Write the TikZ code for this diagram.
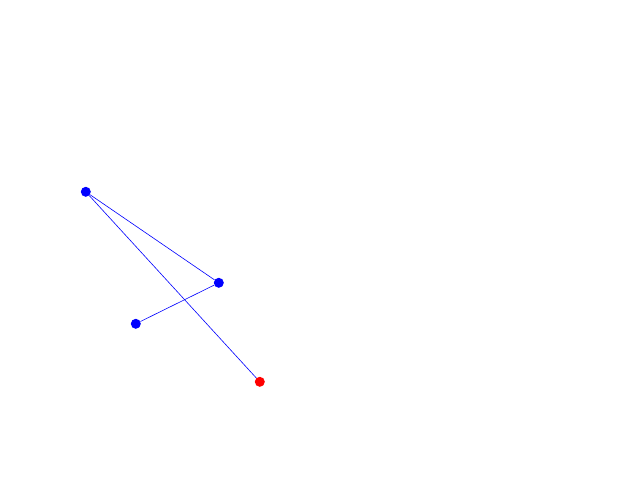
\documentclass[tikz,border=0pt]{standalone}
\begin{document}
\begin{tikzpicture}[x=1pt,y=-1pt,
  dot/.style={circle,inner sep=0pt,minimum size=10pt,fill=#1},
  link/.style={draw=blue,line width=0.6pt}]
\useasboundingbox (0,0) rectangle (640,480);
\node[dot=blue] (a) at (85.8,191.8) {};
\node[dot=blue] (b) at (218.8,282.8) {};
\node[dot=blue] (c) at (135.8,323.8) {};
\node[dot=red] (d) at (259.8,381.8) {};
\draw[link] (a) -- (b);
\draw[link] (b) -- (c);
\draw[link] (a) -- (d);
\end{tikzpicture}
\end{document}
